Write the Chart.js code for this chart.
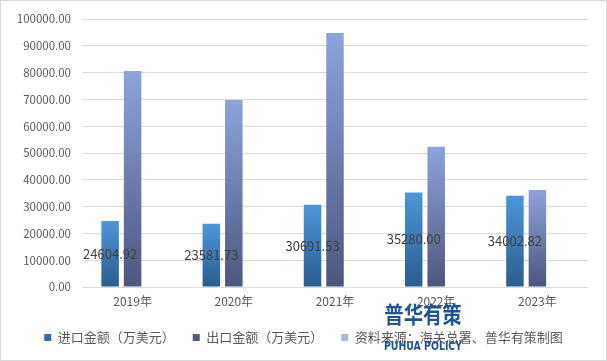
<!DOCTYPE html>
<html>
<head>
<meta charset="utf-8">
<script src="https://cdn.jsdelivr.net/npm/chart.js@4/dist/chart.umd.min.js"></script>
<style>
  html, body { margin: 0; padding: 0; background: #fff; }
  #wrap { width: 607px; height: 361px; }
</style>
</head>
<body>
<div id="wrap"><canvas id="grafica" width="607" height="361"></canvas></div>
<script>
// datos del grafico
var years = ['2019年', '2020年', '2021年', '2022年', '2023年'];
var importValues = [24604.92, 23581.73, 30691.53, 35280.00, 34002.82];
var exportValues = [80600, 69800, 94800, 52300, 36200];
var sourceValues = [null, null, null, null, null];
var seriesNames = ['进口金额（万美元）', '出口金额（万美元）', '资料来源：海关总署、普华有策制图'];

var fontFam = '"Noto Sans CJK SC", "Noto Sans", sans-serif';

// degradado vertical para cada barra
function barGradient(top, bottom) {
    return function (c) {
        var chart = c.chart;
        if (!chart.chartArea || c.raw == null) return top;
        var y = chart.scales.y;
        var y0 = y.getPixelForValue(c.raw);
        var y1 = y.getPixelForValue(0);
        var g = chart.ctx.createLinearGradient(0, y0, 0, y1);
        g.addColorStop(0, top);
        g.addColorStop(1, bottom);
        return g;
    };
}

// etiquetas del valor de importacion en el centro de la barra
var etiquetas = {
    id: 'etiquetas',
    afterDatasetsDraw: function (chart) {
        var ctx = chart.ctx;
        var meta = chart.getDatasetMeta(0);
        ctx.save();
        ctx.font = '13px ' + fontFam;
        ctx.fillStyle = '#404040';
        ctx.textAlign = 'center';
        ctx.textBaseline = 'middle';
        meta.data.forEach(function (bar, i) {
            ctx.fillText(importValues[i].toFixed(2), bar.x, (bar.y + bar.base) / 2);
        });
        ctx.restore();
    }
};

// borde y logo
var marco = {
    id: 'marco',
    beforeDraw: function (chart) {
        var ctx = chart.ctx;
        ctx.save();
        ctx.fillStyle = '#ffffff';
        ctx.fillRect(0, 0, chart.width, chart.height);
        ctx.restore();
    },
    afterDraw: function (chart) {
        var ctx = chart.ctx;
        ctx.save();
        ctx.strokeStyle = '#d9d9d9';
        ctx.lineWidth = 1;
        ctx.strokeRect(0.5, 0.5, chart.width - 1, chart.height - 1);
        ctx.fillStyle = '#1d5496';
        ctx.textAlign = 'center';
        ctx.textBaseline = 'middle';
        ctx.save();
        ctx.translate(423, 314);
        ctx.scale(0.88, 1.05);
        ctx.font = 'bold 22px ' + fontFam;
        ctx.fillText('普华有策', 0, 0);
        ctx.restore();
        ctx.translate(423, 347);
        ctx.scale(0.72, 1);
        ctx.font = 'bold 13px "DejaVu Sans", sans-serif';
        ctx.fillText('PUHUA POLICY', 0, 0);
        ctx.restore();
    }
};

var ctx = document.getElementById('grafica').getContext('2d');
var grafica = new Chart(ctx, {
    type: 'bar',
    data: {
        labels: years,
        datasets: [{
            label: seriesNames[0],
            data: importValues,
            backgroundColor: barGradient('#4d96da', '#2a5d8e'),
            categoryPercentage: 0.666,
            barPercentage: 0.78
        }, {
            label: seriesNames[1],
            data: exportValues,
            backgroundColor: barGradient('#8ea3dc', '#4d5680'),
            categoryPercentage: 0.666,
            barPercentage: 0.78
        }, {
            label: seriesNames[2],
            data: sourceValues,
            backgroundColor: '#a9b8da',
            categoryPercentage: 0.666,
            barPercentage: 0.78
        }]
    },
    options: {
        responsive: false,
        animation: false,
        devicePixelRatio: 1,
        layout: { padding: { left: 0, right: 0, top: 19, bottom: 7 } },
        plugins: {
            tooltip: { enabled: false },
            legend: {
                position: 'bottom',
                labels: {
                    generateLabels: function (chart) {
                        var cols = ['#2f6fae', '#4f5b86', '#a9b8da'];
                        return seriesNames.map(function (n, i) {
                            return { text: n, fillStyle: cols[i], strokeStyle: cols[i], lineWidth: 0, datasetIndex: i, fontColor: '#595959' };
                        });
                    },
                    boxWidth: 7,
                    boxHeight: 7,
                    padding: 18,
                    color: '#595959',
                    font: { size: 13, family: fontFam }
                }
            }
        },
        scales: {
            x: {
                grid: { display: false, drawTicks: false },
                border: { display: false },
                ticks: { color: '#595959', padding: 7, font: { size: 12, family: fontFam } },
                afterFit: function (s) { s.height = 26; }
            },
            y: {
                min: 0,
                max: 100000,
                grid: { color: '#d9d9d9', drawTicks: false },
                border: { display: false },
                ticks: {
                    stepSize: 10000,
                    color: '#595959',
                    padding: 11,
                    font: { size: 11.5, family: fontFam },
                    callback: function (v) { return v.toFixed(2); }
                },
                afterFit: function (s) { s.width = 82; }
            },
            // eje vacio a la derecha para dejar el margen
            y2: {
                position: 'right',
                grid: { display: false, drawTicks: false },
                border: { display: false },
                ticks: { display: false },
                afterFit: function (s) { s.width = 19; }
            }
        }
    },
    plugins: [marco, etiquetas]
});
</script>
</body>
</html>
